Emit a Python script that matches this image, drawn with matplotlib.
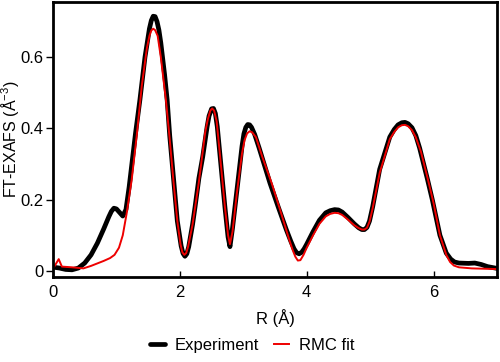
import matplotlib
matplotlib.use("Agg")
import matplotlib.pyplot as plt

plt.rcParams['font.family'] = ['Liberation Sans', 'DejaVu Sans']
plt.rcParams['mathtext.fontset'] = 'custom'
plt.rcParams['mathtext.rm'] = 'Liberation Sans'
plt.rcParams['mathtext.it'] = 'Liberation Sans:italic'

exp_r = [0.02, 0.1, 0.2, 0.3, 0.4, 0.5, 0.6, 0.7, 0.8, 0.88, 0.92, 0.96, 1.0, 1.05, 1.1, 1.15,
         1.2, 1.25, 1.3, 1.37, 1.45, 1.52, 1.55, 1.58, 1.61, 1.64, 1.67, 1.7, 1.76, 1.8, 1.84,
         1.9, 1.96, 2.02, 2.05, 2.08, 2.11, 2.14, 2.2, 2.24, 2.3, 2.36, 2.43, 2.46, 2.5, 2.53,
         2.56, 2.59, 2.63, 2.71, 2.76, 2.79, 2.83, 2.9, 2.98, 3.01, 3.04, 3.07, 3.1, 3.13,
         3.18, 3.25, 3.42, 3.55, 3.68, 3.75, 3.8, 3.84, 3.88, 3.92, 3.96, 4.0, 4.1, 4.2, 4.3,
         4.37, 4.44, 4.5, 4.56, 4.65, 4.75, 4.82, 4.87, 4.91, 4.95, 4.99, 5.04, 5.15, 5.31,
         5.38, 5.44, 5.5, 5.55, 5.6, 5.66, 5.72, 5.78, 5.9, 5.98, 6.1, 6.2, 6.27, 6.33, 6.4,
         6.55, 6.65, 6.75, 6.85, 7.0]
exp_ft = [0.010, 0.008, 0.004, 0.003, 0.008, 0.022, 0.045, 0.078, 0.118, 0.152, 0.167, 0.176,
          0.174, 0.164, 0.154, 0.172, 0.235, 0.31, 0.385, 0.48, 0.60, 0.68, 0.703, 0.715, 0.714,
          0.70, 0.676, 0.64, 0.55, 0.48, 0.38, 0.26, 0.14, 0.07, 0.049, 0.041, 0.048, 0.068,
          0.13, 0.18, 0.26, 0.32, 0.405, 0.435, 0.455, 0.456, 0.442, 0.405, 0.33, 0.18, 0.095,
          0.068, 0.12, 0.227, 0.35, 0.385, 0.403, 0.411, 0.41, 0.403, 0.383, 0.345, 0.247,
          0.18, 0.115, 0.083, 0.062, 0.051, 0.048, 0.052, 0.062, 0.075, 0.11, 0.142, 0.163,
          0.169, 0.172, 0.171, 0.165, 0.15, 0.132, 0.121, 0.116, 0.116, 0.122, 0.14, 0.18,
          0.285, 0.376, 0.397, 0.41, 0.416, 0.417, 0.413, 0.402, 0.38, 0.345, 0.26, 0.2, 0.1,
          0.05, 0.033, 0.025, 0.022, 0.021, 0.022, 0.018, 0.012, 0.007]

rmc_r = [0.02, 0.09, 0.14, 0.3, 0.48, 0.6, 0.7, 0.8, 0.9, 0.97, 1.04, 1.1, 1.16, 1.24, 1.32,
         1.4, 1.48, 1.52, 1.55, 1.58, 1.61, 1.65, 1.7, 1.78, 1.84, 1.9, 1.96, 2.01, 2.04, 2.07,
         2.1, 2.13, 2.2, 2.3, 2.4, 2.44, 2.48, 2.51, 2.54, 2.58, 2.63, 2.71, 2.76, 2.79, 2.83,
         2.9, 2.98, 3.02, 3.06, 3.1, 3.14, 3.2, 3.3, 3.45, 3.6, 3.72, 3.78, 3.82, 3.86, 3.9,
         3.95, 4.0, 4.1, 4.2, 4.3, 4.37, 4.44, 4.5, 4.56, 4.65, 4.75, 4.82, 4.87, 4.91, 4.95,
         4.99, 5.04, 5.15, 5.31, 5.38, 5.44, 5.5, 5.55, 5.6, 5.66, 5.72, 5.8, 5.92, 6.0, 6.1,
         6.2, 6.26, 6.32, 6.4, 6.6, 7.0]
rmc_ft = [0.012, 0.033, 0.012, 0.01, 0.007, 0.014, 0.021, 0.028, 0.036, 0.045, 0.065, 0.10,
          0.16, 0.255, 0.38, 0.52, 0.625, 0.66, 0.675, 0.68, 0.676, 0.66, 0.60, 0.48, 0.37,
          0.25, 0.14, 0.075, 0.052, 0.045, 0.05, 0.068, 0.13, 0.25, 0.39, 0.425, 0.45, 0.456,
          0.45, 0.42, 0.33, 0.18, 0.10, 0.075, 0.11, 0.22, 0.33, 0.367, 0.386, 0.392, 0.389,
          0.375, 0.32, 0.245, 0.16, 0.09, 0.058, 0.04, 0.029, 0.03, 0.045, 0.065, 0.10, 0.132,
          0.153, 0.16, 0.163, 0.162, 0.157, 0.144, 0.128, 0.12, 0.116, 0.116, 0.121, 0.138,
          0.176, 0.275, 0.37, 0.39, 0.403, 0.409, 0.41, 0.406, 0.395, 0.375, 0.335, 0.25, 0.19,
          0.10, 0.045, 0.025, 0.015, 0.01, 0.007, 0.005]

x_ticks = [0, 2, 4, 6]
y_ticks = [0, 0.2, 0.4, 0.6]
y_tick_labels = ['0', '0.2', '0.4', '0.6']

fig = plt.figure(figsize=(5.0, 3.62), dpi=100)
ax = fig.add_axes([0.106, 0.235, 0.888, 0.7595])

ax.plot(exp_r, exp_ft, color='black', lw=3.4, label='Experiment',
        solid_joinstyle='round', solid_capstyle='round')
ax.plot(rmc_r, rmc_ft, color='#ee0000', lw=1.4, label='RMC fit', solid_joinstyle='round')

ax.set_xlim(0, 7)
ax.set_ylim(-0.017, 0.755)
ax.set_xticks(x_ticks)
ax.set_yticks(y_ticks)
ax.set_yticklabels(y_tick_labels)

for s in ax.spines.values():
    s.set_linewidth(2.0)
ax.tick_params(axis='x', direction='in', length=4, width=1, labelsize=12, pad=6)
ax.tick_params(axis='y', direction='out', length=5, width=1, labelsize=12, pad=2)

ax.set_xlabel('R (Å)', fontsize=12, labelpad=6)
ax.set_ylabel('FT-EXAFS (Å$^{-3}$)', fontsize=11.5)
ax.yaxis.set_label_coords(-0.071, 0.5)

fig.legend(loc='center', bbox_to_anchor=(0.505, 0.045), ncol=2, frameon=False,
           fontsize=12, handlelength=0.9, handletextpad=0.6, columnspacing=0.9)

fig.savefig('out.png', dpi=100)
